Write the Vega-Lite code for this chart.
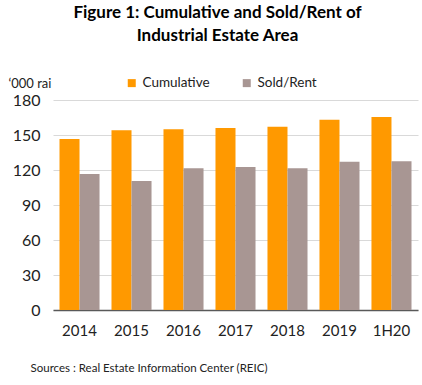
{
  "$schema": "https://vega.github.io/schema/vega-lite/v6.json",
  "autosize": "none",
  "width": 365,
  "height": 210,
  "padding": {"left": 53, "top": 100, "right": 4, "bottom": 75},
  "background": "white",
  "config": {"font": "Lato", "view": {"stroke": null}},
  "title": {
    "text": ["Figure 1: Cumulative and Sold/Rent of", "Industrial Estate Area"],
    "fontSize": 17,
    "fontWeight": "bold",
    "color": "#000000",
    "anchor": "middle",
    "frame": "group",
    "dx": -18,
    "lineHeight": 23,
    "offset": 31
  },
  "data": {
    "values": [
      {"period": "2014", "series": "Cumulative", "value": 146.5},
      {"period": "2014", "series": "Sold/Rent", "value": 116.5},
      {"period": "2015", "series": "Cumulative", "value": 154},
      {"period": "2015", "series": "Sold/Rent", "value": 110.5},
      {"period": "2016", "series": "Cumulative", "value": 155},
      {"period": "2016", "series": "Sold/Rent", "value": 121.5},
      {"period": "2017", "series": "Cumulative", "value": 156},
      {"period": "2017", "series": "Sold/Rent", "value": 122.5},
      {"period": "2018", "series": "Cumulative", "value": 157},
      {"period": "2018", "series": "Sold/Rent", "value": 121.5},
      {"period": "2019", "series": "Cumulative", "value": 163},
      {"period": "2019", "series": "Sold/Rent", "value": 127},
      {"period": "1H20", "series": "Cumulative", "value": 165.5},
      {"period": "1H20", "series": "Sold/Rent", "value": 127.5}
    ]
  },
  "mark": {"type": "bar"},
  "encoding": {
    "x": {
      "field": "period",
      "type": "nominal",
      "sort": null,
      "scale": {"paddingInner": 0.23, "paddingOuter": 0.125},
      "axis": {
        "title": "Sources : Real Estate Information Center (REIC)",
        "titleFontSize": 11.5,
        "titleFontWeight": "normal",
        "titleColor": "#222222",
        "titleAnchor": "start",
        "titleAlign": "left",
        "titleX": -23,
        "titleY": 58,
        "titleBaseline": "middle",
        "labelAngle": 0,
        "labelFontSize": 15,
        "labelColor": "#222222",
        "labelPadding": 13,
        "ticks": false,
        "domainColor": "#595959",
        "domainWidth": 1.5,
        "grid": false
      }
    },
    "xOffset": {"field": "series", "type": "nominal", "scale": {"paddingInner": 0, "paddingOuter": 0}},
    "y": {
      "field": "value",
      "type": "quantitative",
      "scale": {"domain": [0, 180], "nice": false},
      "axis": {
        "values": [0, 30, 60, 90, 120, 150, 180],
        "title": "‘000 rai",
        "titleAngle": 0,
        "titleFontSize": 13,
        "titleFontWeight": "normal",
        "titleColor": "#222222",
        "titleAlign": "left",
        "titleBaseline": "middle",
        "titleX": -45,
        "titleY": -17,
        "labelFontSize": 16,
        "labelColor": "#222222",
        "labelPadding": 13,
        "ticks": false,
        "domain": false,
        "gridColor": "#D9D9D9",
        "gridWidth": 1
      }
    },
    "color": {
      "field": "series",
      "type": "nominal",
      "scale": {"domain": ["Cumulative", "Sold/Rent"], "range": ["#FF9900", "#A89693"]},
      "legend": {
        "title": null,
        "orient": "none",
        "direction": "horizontal",
        "legendX": 72,
        "legendY": -24,
        "symbolType": "square",
        "symbolSize": 64,
        "symbolStrokeWidth": 0,
        "labelFontSize": 13.5,
        "labelColor": "#222222",
        "labelOffset": 4,
        "columnPadding": 30
      }
    }
  }
}
